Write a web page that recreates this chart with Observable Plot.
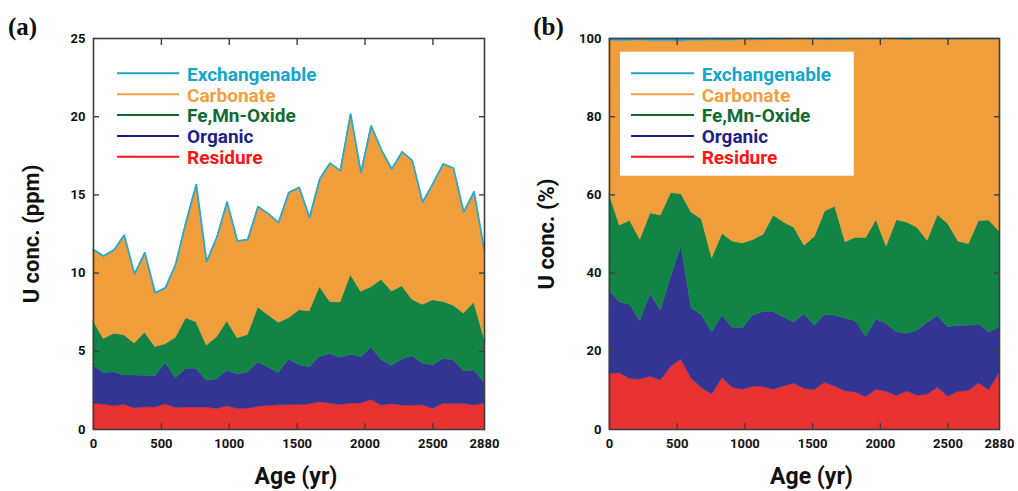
<!DOCTYPE html>
<html><head><meta charset="utf-8">
<script src="https://cdn.jsdelivr.net/npm/d3@7"></script>
<script src="https://cdn.jsdelivr.net/npm/@observablehq/plot@0.6"></script>
<style>
body{margin:0;background:#fff;}
#wrap{display:flex;width:1018px;height:491px;overflow:hidden;}
</style></head><body><div id="wrap"></div>
<script>
// Age of each sample (yr)
const ages = [0,76,152,227,303,379,455,531,606,682,758,834,909,985,1061,1137,1213,1288,1364,1440,1516,1592,1667,1743,1819,1895,1971,2046,2122,2198,2274,2349,2425,2501,2577,2653,2728,2804,2880];
// U concentration of each fraction (ppm)
const residure = [1.64,1.60,1.48,1.59,1.34,1.42,1.40,1.62,1.37,1.41,1.40,1.41,1.31,1.48,1.32,1.32,1.45,1.52,1.55,1.57,1.56,1.62,1.75,1.66,1.57,1.66,1.67,1.88,1.53,1.62,1.53,1.53,1.55,1.32,1.64,1.64,1.64,1.53,1.66];
const organic = [2.43,2.01,2.18,1.86,2.11,2.02,2.01,2.63,1.90,2.47,2.48,1.72,1.88,2.29,2.19,2.33,2.83,2.44,2.07,2.90,2.55,2.36,2.90,3.17,3.01,3.12,2.95,3.36,2.92,2.46,2.95,3.17,2.67,2.79,2.87,2.79,2.09,2.24,1.33];
const feMnOxide = [2.85,2.18,2.47,2.58,2.05,2.75,1.87,1.20,2.59,3.24,2.98,2.24,2.71,3.15,2.33,2.40,3.52,3.35,3.21,2.65,3.52,3.58,4.46,3.33,3.54,5.10,4.18,3.85,5.12,4.74,4.68,3.60,3.75,4.15,3.65,3.49,3.68,4.35,2.80];
const carbonate = [4.52,5.23,5.28,6.33,4.38,5.04,3.39,3.54,4.64,6.05,8.73,5.30,6.30,7.57,6.15,6.04,6.40,6.45,6.36,8.00,7.81,5.93,6.82,8.82,8.40,10.25,7.57,10.29,8.26,7.77,8.55,8.87,6.53,7.41,8.78,8.75,6.45,7.05,5.62];
const exchangenable = [0.06,0.08,0.07,0.06,0.07,0.08,0.06,0.07,0.06,0.08,0.07,0.06,0.07,0.05,0.06,0.05,0.05,0.04,0.04,0.03,0.04,0.06,0.07,0.05,0.03,0.04,0.05,0.03,0.04,0.07,0.04,0.03,0.03,0.05,0.04,0.03,0.03,0.03,0.03];

// Stacking order (bottom to top) and legend order (top to bottom)
const fractions = ["Residure","Organic","Fe,Mn-Oxide","Carbonate","Exchangenable"];
const legendOrder = ["Exchangenable","Carbonate","Fe,Mn-Oxide","Organic","Residure"];
const fillColors = {"Residure":"#e83131","Organic":"#333592","Fe,Mn-Oxide":"#128446","Carbonate":"#f09d3c","Exchangenable":"#2aa9cd"};
const textColors = {"Residure":"#ff1414","Organic":"#1f1f8c","Fe,Mn-Oxide":"#126b31","Carbonate":"#f2a041","Exchangenable":"#16a6cc"};

// Tick labels
const xTickLabels = [0,500,1000,1500,2000,2500,2880];
const xTickMarks = [500,1000,1500,2000,2500];
const yTickLabelsA = [0,5,10,15,20,25];
const yTickMarksA = [5,10,15,20];
const yTickLabelsB = [0,20,40,60,80,100];
const yTickMarksB = [20,40,60,80];

const series = [residure, organic, feMnOxide, carbonate, exchangenable];
const totals = ages.map((_, i) => series.reduce((s, arr) => s + arr[i], 0));

const tidyPpm = [];
const tidyPct = [];
fractions.forEach((f, j) => {
  ages.forEach((a, i) => {
    tidyPpm.push({age: a, fraction: f, value: series[j][i]});
    tidyPct.push({age: a, fraction: f, value: series[j][i] / totals[i] * 100});
  });
});
const totalLine = ages.map((a, i) => ({age: a, total: totals[i]}));

const FRAME = "#3f3f3f";
const FONT = "Roboto, 'Liberation Sans', sans-serif";

function panel({data, yDomain, yLabels, yMarks, yTitle, tag, tagX, marginLeft, marginRight, labelDx, withLine}) {
  const marks = [
    Plot.areaY(data, {x: "age", y: "value", z: "fraction", fill: "fraction", stroke: "fraction", strokeWidth: 0.5}),
  ];
  if (withLine) marks.push(Plot.lineY(totalLine, {x: "age", y: "total", stroke: fillColors["Exchangenable"], strokeWidth: 1.6}));
  marks.push(
    Plot.frame({stroke: FRAME, strokeWidth: 1.6}),
    Plot.axisX({anchor: "bottom", ticks: xTickMarks, tickSize: -6, fill: "none", label: null, stroke: FRAME, strokeWidth: 1.4}),
    Plot.axisX({anchor: "top", ticks: xTickMarks, tickSize: -6, fill: "none", label: null, stroke: FRAME, strokeWidth: 1.4}),
    Plot.axisY({anchor: "left", ticks: yMarks, tickSize: -6, fill: "none", label: null, stroke: FRAME, strokeWidth: 1.4}),
    Plot.axisY({anchor: "right", ticks: yMarks, tickSize: -6, fill: "none", label: null, stroke: FRAME, strokeWidth: 1.4}),
    Plot.axisX({anchor: "bottom", ticks: xTickLabels, tickSize: 0, tickPadding: 9, label: null, fontSize: 13, fontWeight: "bold", fill: "#111", tickFormat: d => String(d)}),
    Plot.axisY({anchor: "left", ticks: yLabels, tickSize: 0, tickPadding: 8, label: null, fontSize: 13, fontWeight: "bold", fill: "#111", tickFormat: d => String(d)}),
    Plot.text([yTitle], {frameAnchor: "left", rotate: -90, dx: labelDx, text: d => d, fontSize: 22, fontWeight: "bold", fill: "#111", textAnchor: "middle", lineAnchor: "middle"}),
    Plot.text(["Age (yr)"], {frameAnchor: "bottom", dx: 7, dy: 47, text: d => d, fontSize: 23, fontWeight: "bold", fill: "#111", textAnchor: "middle", lineAnchor: "middle"}),
    Plot.text([tag], {frameAnchor: "top-left", dx: tagX - marginLeft, dy: -12, text: d => d, fontSize: 25, fontWeight: "bold", fontFamily: "'Liberation Serif', 'DejaVu Serif', serif", fill: "#111", textAnchor: "middle", lineAnchor: "middle"})
  );
  return Plot.plot({
    width: 509, height: 491,
    marginLeft, marginRight, marginTop: 38, marginBottom: 62,
    x: {domain: [0, 2880], axis: null},
    y: {domain: yDomain, axis: null},
    color: {domain: fractions, range: fractions.map(f => fillColors[f])},
    style: {fontFamily: FONT, background: "#fff", overflow: "visible"},
    marks
  });
}

function addLegend(svg, {box, lineX1, lineX2, textX}) {
  const s = d3.select(svg);
  const g = s.append("g").attr("class", "legend");
  if (box) g.append("rect").attr("x", box[0]).attr("y", box[1]).attr("width", box[2]).attr("height", box[3]).attr("fill", "#fff");
  const lineYs = [73.3, 94.3, 115, 136, 156.7];
  legendOrder.forEach((f, i) => {
    g.append("line").attr("x1", lineX1).attr("x2", lineX2).attr("y1", lineYs[i]).attr("y2", lineYs[i])
      .attr("stroke", textColors[f]).attr("stroke-width", 2);
    g.append("text").attr("x", textX).attr("y", lineYs[i] + 7.2).text(f)
      .attr("text-anchor", "start")
      .attr("fill", textColors[f]).attr("font-family", FONT).attr("font-weight", "bold").attr("font-size", 19);
  });
}

const wrap = document.getElementById("wrap");
const a = panel({data: tidyPpm, yDomain: [0, 25], yLabels: yTickLabelsA, yMarks: yTickMarksA, yTitle: "U conc. (ppm)", tag: "(a)", tagX: 22, marginLeft: 93, marginRight: 25, labelDx: -62, withLine: true});
const b = panel({data: tidyPct, yDomain: [0, 100], yLabels: yTickLabelsB, yMarks: yTickMarksB, yTitle: "U conc. (%)", tag: "(b)", tagX: 39, marginLeft: 100, marginRight: 19, labelDx: -63, withLine: false});
addLegend(a, {box: null, lineX1: 117, lineX2: 179, textX: 187});
addLegend(b, {box: [111, 51.7, 233.7, 124], lineX1: 122, lineX2: 185, textX: 192.7});
wrap.appendChild(a);
wrap.appendChild(b);
</script></body></html>
